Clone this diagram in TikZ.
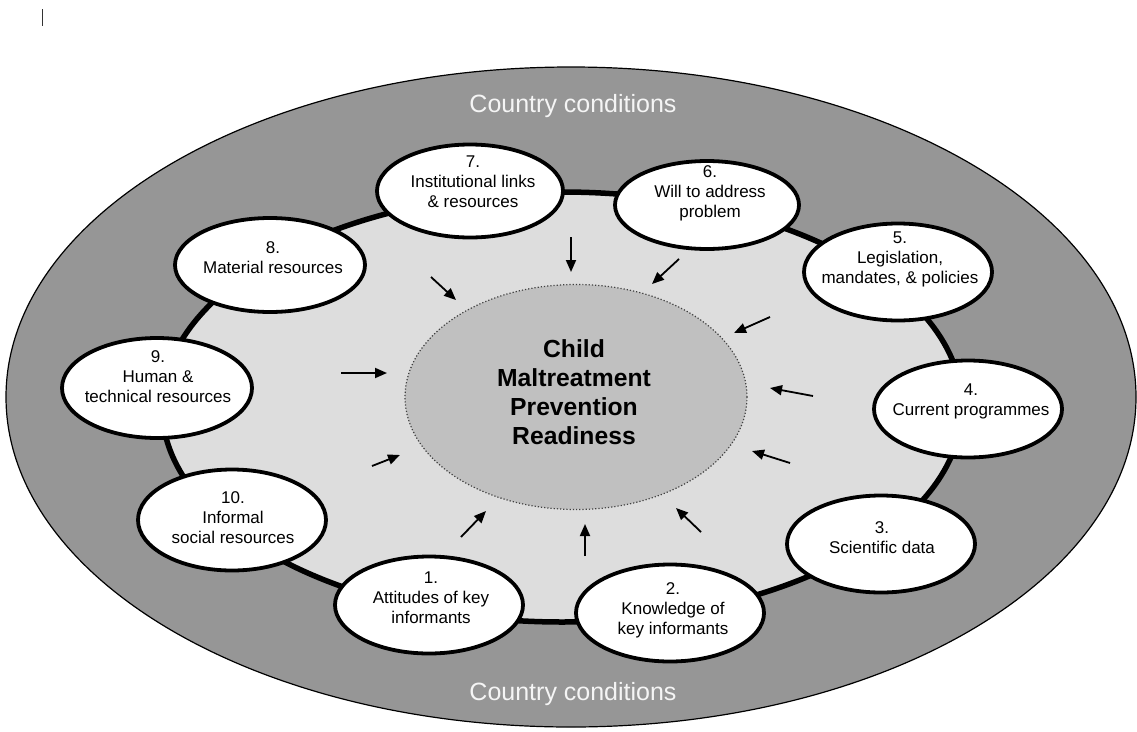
\documentclass[tikz,border=0pt]{standalone}
\usepackage{fontspec}
\setmainfont{Liberation Sans}
\usetikzlibrary{arrows.meta,shapes.geometric}
\definecolor{outergray}{RGB}{150,150,150}
\definecolor{innergray}{RGB}{221,221,221}
\definecolor{coregray}{RGB}{192,192,192}
\tikzset{
  itembox/.style={ellipse, draw=black, line width=3.8pt, fill=white,
    minimum width=188pt, minimum height=97pt, inner sep=0pt},
  itemtext/.style={align=center, font=\fontsize{17}{20}\selectfont, inner sep=0pt},
  corebox/.style={ellipse, draw=black!75, dotted, line width=1.2pt, fill=coregray,
    minimum width=342pt, minimum height=225pt, inner sep=0pt},
  coretext/.style={align=center, inner sep=0pt,
    font=\fontsize{24.7}{29}\selectfont\bfseries},
  countrytext/.style={text=white!96!black, font=\fontsize{25}{28}\selectfont, inner sep=0pt},
  arr/.style={line width=1.8pt, -{Triangle[length=12pt,width=10pt]}}
}
\begin{document}
\begin{tikzpicture}[x=1pt,y=-1pt]
\useasboundingbox (0,0) rectangle (1137,731);
% cursor mark
\draw[line width=1pt, black!80] (42,9) -- (42,26);
% outer ellipse
\draw[fill=outergray, draw=black, line width=1.2pt] (571,397) ellipse [x radius=565pt, y radius=330pt];
% inner ellipse
\draw[fill=innergray, draw=black, line width=5.5pt] (562,407) ellipse [x radius=400pt, y radius=215pt];
\node[countrytext] (cctop) at (573,106) {Country conditions};
\node[countrytext] (ccbot) at (573,694) {Country conditions};
% core
\node[corebox] (core) at (576,397) {};
\node[coretext] (coretxt) at (574,392) {Child\\Maltreatment\\Prevention\\Readiness};
% arrows
\coordinate (a7s) at (571,237); \coordinate (a7e) at (571,272);
\coordinate (a6s) at (679,259); \coordinate (a6e) at (652,284);
\coordinate (a8s) at (431,277); \coordinate (a8e) at (456,300);
\coordinate (a5s) at (770,317); \coordinate (a5e) at (734,333);
\coordinate (a9s) at (341,373); \coordinate (a9e) at (387,373);
\coordinate (a4s) at (813,396); \coordinate (a4e) at (770,388);
\coordinate (a10s) at (372,466); \coordinate (a10e) at (400,455);
\coordinate (a3s) at (790,463); \coordinate (a3e) at (752,451);
\coordinate (a1s) at (461,537); \coordinate (a1e) at (486,511);
\coordinate (a2s) at (585,556); \coordinate (a2e) at (585,524);
\coordinate (abs) at (701,532); \coordinate (abe) at (676,508);
\foreach \p in {a7,a6,a8,a5,a9,a4,a10,a3,a1,a2,ab}
  \draw[arr] (\p s) -- (\p e);
% items
\node[itembox] (n1) at (429,605) {};
\node[itemtext] (t1) at (431,598) {1.\\Attitudes of key\\informants};
\node[itembox] (n2) at (670,613) {};
\node[itemtext] (t2) at (673,610) {2.\\Knowledge of\\key informants};
\node[itembox] (n3) at (881,544) {};
\node[itemtext] (t3) at (882,538) {3.\\Scientific data};
\node[itembox] (n4) at (968,409) {};
\node[itemtext] (t4) at (971,401) {4.\\Current programmes};
\node[itembox] (n5) at (898,272) {};
\node[itemtext] (t5) at (900,259) {5.\\Legislation,\\mandates, \& policies};
\node[itembox, minimum height=88pt, minimum width=184pt] (n6) at (707,205) {};
\node[itemtext] (t6) at (710,193) {6.\\Will to address\\problem};
\node[itembox, minimum height=93pt, minimum width=186pt] (n7) at (470,191) {};
\node[itemtext] (t7) at (473,182) {7.\\Institutional links\\\& resources};
\node[itembox, minimum height=94pt, minimum width=190pt] (n8) at (270,265) {};
\node[itemtext] (t8) at (273,258) {8.\\Material resources};
\node[itembox, minimum height=100pt, minimum width=190pt] (n9) at (157,388) {};
\node[itemtext] (t9) at (158,377) {9.\\Human \&\\technical resources};
\node[itembox, minimum height=101pt] (n10) at (232,520) {};
\node[itemtext] (t10) at (233,518) {10.\\Informal\\social resources};
\end{tikzpicture}
\end{document}
